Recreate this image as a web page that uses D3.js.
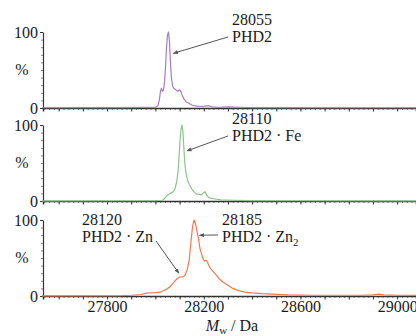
<!DOCTYPE html>
<html>
<head>
<meta charset="utf-8">
<script src="https://cdn.jsdelivr.net/npm/d3@7"></script>
<style>
  html, body { margin: 0; padding: 0; background: #fff; }
  svg { display: block; }
  .axis path, .axis line { stroke: #333; }
  .axis text { fill: #1a1a1a; font-size: 16px; }
  .trace { fill: none; stroke-width: 1.2; stroke-linejoin: round; }
  .note { font-size: 16px; fill: #1a1a1a; }
  .arrow { stroke: #555; stroke-width: 1; }
</style>
</head>
<body>
<svg id="chart"></svg>
<script>
// spectra: [mass (Da), relative intensity (%)]
const phd2 = [
  [27530, 0.3], [27700, 0.5], [27850, 0.5], [27950, 0.8], [28000, 1], [28010, 3],
  [28016, 10], [28021, 22], [28025, 26], [28029, 22], [28033, 23], [28038, 35],
  [28042, 55], [28046, 80], [28050, 96], [28054, 100], [28058, 88], [28062, 62],
  [28066, 40], [28071, 29], [28076, 26], [28084, 24], [28092, 22], [28100, 24],
  [28105, 22], [28112, 16], [28118, 12], [28128, 8], [28140, 6], [28150, 4],
  [28170, 2.5], [28190, 2], [28205, 2.5], [28220, 3], [28235, 1.5], [28260, 1],
  [28300, 1.5], [28350, 1], [28400, 0.5], [28500, 0.5], [28700, 0.3], [29100, 0.3]
];
const phd2Fe = [
  [27530, 0.2], [27900, 0.3], [28000, 0.5], [28030, 1], [28040, 4], [28050, 8],
  [28060, 10], [28070, 11], [28080, 15], [28088, 25], [28094, 40], [28098, 60],
  [28102, 80], [28106, 95], [28110, 100], [28114, 90], [28118, 68], [28122, 48],
  [28127, 36], [28133, 27], [28140, 22], [28150, 16], [28160, 12], [28170, 9],
  [28180, 9], [28190, 8], [28200, 11], [28206, 12], [28212, 8], [28222, 4],
  [28240, 3], [28270, 1.5], [28320, 1], [28400, 0.5], [28600, 0.3], [29100, 0.2]
];
const phd2Zn = [
  [27530, 0.2], [27850, 0.3], [27900, 1], [27940, 2], [27970, 4], [28000, 4.5],
  [28020, 5], [28040, 8], [28060, 12], [28076, 18], [28090, 23], [28101, 25],
  [28112, 25], [28122, 27], [28132, 35], [28140, 48], [28148, 74], [28154, 92],
  [28160, 100], [28166, 95], [28172, 85], [28178, 76], [28184, 63], [28190, 56],
  [28196, 50], [28202, 46], [28210, 47], [28216, 44], [28224, 38], [28234, 34],
  [28250, 28], [28266, 22], [28280, 18], [28300, 14], [28320, 10], [28345, 7],
  [28370, 5], [28400, 4], [28440, 3], [28480, 2.5], [28550, 1.5], [28650, 1],
  [28850, 1], [28900, 1.5], [28924, 2.5], [28945, 1.5], [29000, 1], [29100, 0.8]
];

const xTicks = [27800, 28200, 28600, 29000];
const yTicks = [0, 100];

const FONT = '"Liberation Serif", "Times New Roman", serif';
const WIDTH = 416;
const HEIGHT = 336;
const margin = {left: 43, right: 0};
const panelTop = [32, 125, 220];
const panelH = 76;

const panels = [
  {data: phd2, color: '#a87cc8'},
  {data: phd2Fe, color: '#8cc48c'},
  {data: phd2Zn, color: '#f27a50'}
];

const x = d3.scaleLinear()
  .domain([27535, 29078])
  .range([margin.left, WIDTH - margin.right]);

const svg = d3.select('#chart')
  .attr('width', WIDTH)
  .attr('height', HEIGHT)
  .attr('viewBox', [0, 0, WIDTH, HEIGHT]);

svg.append('defs').append('marker')
  .attr('id', 'head')
  .attr('viewBox', '0 0 10 10')
  .attr('refX', 9).attr('refY', 5)
  .attr('markerWidth', 5).attr('markerHeight', 5)
  .attr('orient', 'auto')
  .append('path')
  .attr('d', 'M0,1 L10,5 L0,9 z')
  .attr('fill', '#555');

panels.forEach((p, i) => {
  const top = panelTop[i];
  const y = d3.scaleLinear().domain([0, 100]).range([top + panelH, top]);
  const g = svg.append('g');

  // minor x ticks
  g.append('g')
    .attr('class', 'axis')
    .attr('transform', `translate(0,${top + panelH})`)
    .call(d3.axisBottom(x).ticks(80).tickSize(2).tickFormat(''))
    .call(a => a.select('.domain').remove())
    .selectAll('line').attr('stroke-width', 0.6);

  g.append('g')
    .attr('class', 'axis')
    .attr('transform', `translate(0,${top + panelH})`)
    .call(d3.axisBottom(x).tickValues(d3.range(27600, 29101, 100)).tickSize(3.5).tickFormat(''))
    .call(a => a.select('.domain').attr('stroke-width', 1.5));

  if (i === 2) {
    g.append('g')
      .attr('class', 'axis')
      .attr('transform', `translate(0,${top + panelH})`)
      .call(d3.axisBottom(x).tickValues(xTicks).tickSize(0).tickPadding(5).tickFormat(d3.format('d')))
      .call(a => a.select('.domain').remove());
  }

  // y axis
  g.append('g')
    .attr('class', 'axis')
    .attr('transform', `translate(${margin.left},0)`)
    .call(d3.axisLeft(y).tickValues(d3.range(0, 101, 10)).tickSize(2).tickFormat(''))
    .call(a => a.select('.domain').remove())
    .selectAll('line').attr('stroke-width', 0.6);

  g.append('g')
    .attr('class', 'axis')
    .attr('transform', `translate(${margin.left},0)`)
    .call(d3.axisLeft(y).tickValues(yTicks).tickSize(3).tickSizeOuter(0).tickPadding(2))
    .call(a => a.select('.domain').attr('stroke-width', 1.2));

  g.append('text')
    .attr('class', 'note')
    .attr('x', 22)
    .attr('y', y(50) + 5)
    .attr('text-anchor', 'middle')
    .text('%');

  const line = d3.line()
    .x(d => x(d[0]))
    .y(d => y(d[1]));

  g.append('path')
    .datum(p.data)
    .attr('class', 'trace')
    .attr('stroke', p.color)
    .attr('d', line);

  p.y = y;
});

// annotations
function note(xp, yp, lines) {
  const t = svg.append('text').attr('class', 'note').attr('x', xp).attr('y', yp);
  lines.forEach((l, k) => {
    const ts = t.append('tspan').attr('x', xp).attr('dy', k === 0 ? 0 : 17);
    if (Array.isArray(l)) {
      ts.text(l[0]);
      t.append('tspan').attr('font-size', 11).attr('dy', 4).text(l[1]);
    } else {
      ts.text(l);
    }
  });
}
function arrow(x1, y1, x2, y2) {
  svg.append('line')
    .attr('class', 'arrow')
    .attr('x1', x1).attr('y1', y1).attr('x2', x2).attr('y2', y2)
    .attr('marker-end', 'url(#head)');
}

note(232, 25, ['28055', 'PHD2']);
arrow(228, 37, x(28058) + 4, panels[0].y(72));

note(232, 124, ['28110', 'PHD2 · Fe']);
arrow(228, 136, x(28114) + 4, panels[1].y(66));

note(82, 225, ['28120', 'PHD2 · Zn']);
arrow(156, 241, x(28101) - 1, panels[2].y(30));

note(222, 225, ['28185', ['PHD2 · Zn', '2']]);
arrow(218, 235, x(28166) + 4, panels[2].y(80));

// x axis title
const xt = svg.append('text')
  .attr('class', 'note')
  .attr('x', 232).attr('y', 331)
  .attr('text-anchor', 'middle');
xt.append('tspan').attr('font-style', 'italic').text('M');
xt.append('tspan').attr('font-size', 11).attr('dy', 3).text('w');
xt.append('tspan').attr('dy', -3).text(' / Da');

// serif face on every text, set inline so nothing overrides it
svg.selectAll('text').style('font-family', FONT);
</script>
</body>
</html>
